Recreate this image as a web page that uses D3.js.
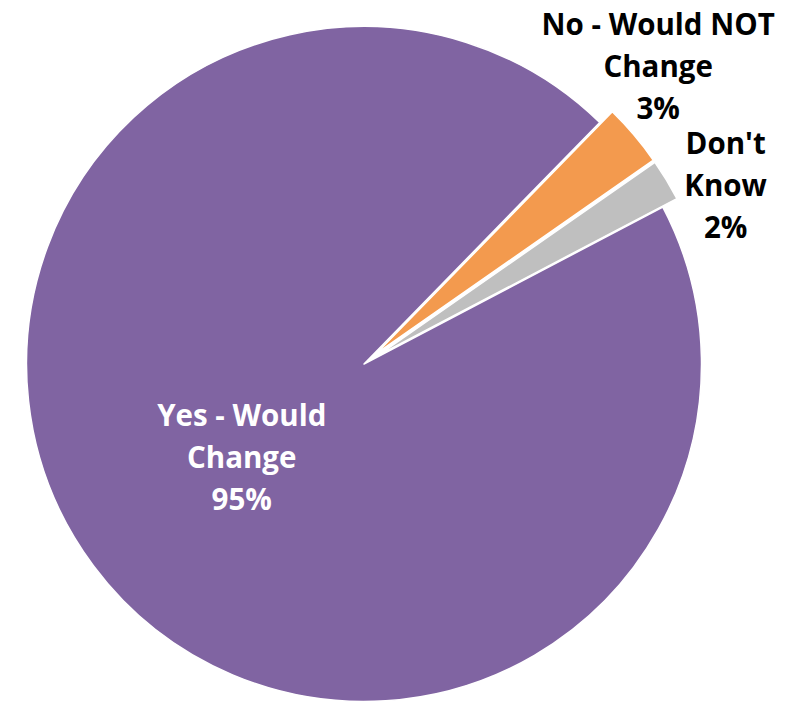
<!DOCTYPE html>
<html>
<head>
<meta charset="utf-8">
<script src="https://cdn.jsdelivr.net/npm/d3@7"></script>
<style>
  html, body { margin: 0; padding: 0; background: #fff; }
  svg { display: block; }
  .lbl { font-family: "Open Sans", "DejaVu Sans", sans-serif; font-weight: bold; font-size: 29.5px; }
</style>
</head>
<body>
<svg id="chart" width="793" height="704"></svg>
<script>
// data
var categories = ["Yes - Would Change", "No - Would NOT Change", "Don't Know"];
var values = [95, 3, 2];
var labelLines = [["Yes - Would", "Change", "95%"], ["No - Would NOT", "Change", "3%"], ["Don't", "Know", "2%"]];
var colors = ["#8064A2", "#F39A4E", "#BFBFBF"];
var exploded = [false, true, true];

var W = 793, H = 704;
var cx = 364, cy = 364, R = 337.5;
var explode = 16.5;
var start = 62.3 * Math.PI / 180;

var svg = d3.select("#chart");
var g = svg.append("g").attr("transform", "translate(" + cx + "," + cy + ")");

var pie = d3.pie().sort(null).value(function(d) { return d; })
  .startAngle(start).endAngle(start + 2 * Math.PI);
var arcs = pie(values);

var arc = d3.arc().innerRadius(0).outerRadius(R);

function shift(d, i) {
  if (!exploded[i]) return "";
  var a = (d.startAngle + d.endAngle) / 2;
  return "translate(" + (explode * Math.sin(a)) + "," + (-explode * Math.cos(a)) + ")";
}

g.selectAll("path.slice")
  .data(arcs)
  .enter().append("path")
  .attr("class", "slice")
  .attr("d", arc)
  .attr("transform", shift)
  .attr("fill", function(d, i) { return colors[i]; })
  .attr("stroke", "#fff")
  .attr("stroke-width", 1.5)
  .attr("stroke-linejoin", "round");

// label placement: inside label on the centroid, outside ones nudged like Excel's best fit
var inArc = d3.arc().innerRadius(155).outerRadius(155);
var outArc = d3.arc().innerRadius(408).outerRadius(408);
var nudge = [[2, 11], [-17, -23], [13, 44]];
var lineH = 42;

var labels = g.selectAll("text.lbl")
  .data(arcs)
  .enter().append("text")
  .attr("class", "lbl")
  .attr("text-anchor", "middle")
  .attr("fill", function(d, i) { return i === 0 ? "#fff" : "#000"; })
  .attr("transform", function(d, i) {
    var p = (i === 0 ? inArc : outArc).centroid(d);
    return "translate(" + (p[0] + nudge[i][0]) + "," + (p[1] + nudge[i][1]) + ")";
  });

labels.each(function(d, i) {
  var t = d3.select(this);
  labelLines[i].forEach(function(s, k) {
    t.append("tspan").attr("x", 0).attr("y", (k - 1) * lineH).text(s);
  });
});
</script>
</body>
</html>
